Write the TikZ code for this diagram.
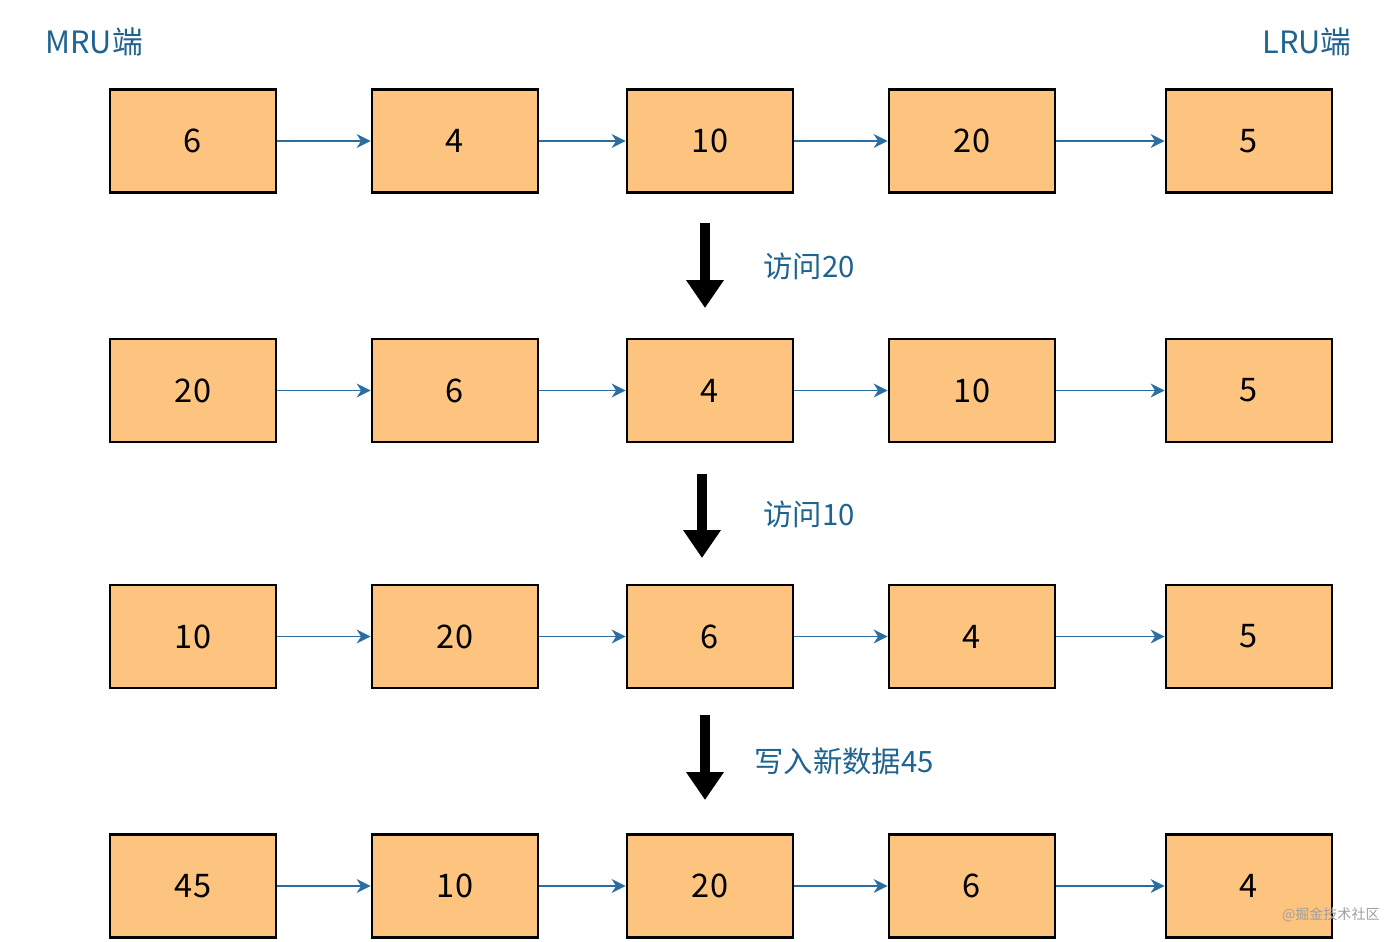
\documentclass[tikz,border=0pt]{standalone}
\usepackage{fontspec}
\usepackage{tikz}
\usetikzlibrary{arrows.meta,positioning,calc}
\newfontfamily\cjk{Noto Sans CJK SC}
\definecolor{cellfill}{HTML}{FDC47F}
\definecolor{linkblue}{HTML}{2A6DA0}
\definecolor{lblblue}{HTML}{1F6391}
\tikzset{
  cell/.style={draw, line width=1.6pt, fill=cellfill, minimum width=3.32cm, minimum height=2.06cm, inner sep=0pt, font=\cjk\fontsize{18.5}{20}\selectfont},
  link/.style={-{Stealth[length=2.8mm, width=2.8mm, inset=0.9mm]}, linkblue, line width=0.8pt},
  stepdown/.style={-{Triangle[length=5.6mm, width=7.2mm]}, line width=2mm},
  opnote/.style={anchor=west, text=lblblue, inner sep=0pt, font=\cjk\fontsize{16.7}{18}\selectfont},
  endlbl/.style={text=lblblue, inner sep=0pt, font=\cjk\fontsize{17.5}{19}\selectfont},
}
% one row of the list: #1 row name, #2 y, #3 values
\newcommand{\listrow}[3]{%
  \foreach \v [count=\i] in {#3} {%
    \pgfmathsetmacro{\cx}{{193,455,710,972,1249}[\i-1]}
    \node[cell] (#1c\i) at (\cx,#2) {\v};
  }
  \foreach \i [evaluate=\i as \j using int(\i+1)] in {1,...,4}
    \draw[link] (#1c\i.east) -- (#1c\j.west);
}
\begin{document}
\begin{tikzpicture}[x=0.02cm,y=-0.02cm]
  \useasboundingbox (0,0) rectangle (1400,941);
  \node[endlbl, anchor=west] (mru) at (45,42) {MRU端};
  \node[endlbl, anchor=east] (lru) at (1352,42) {LRU端};
  \listrow{a}{141}{6,4,10,20,5}
  \listrow{b}{390.5}{20,6,4,10,5}
  \listrow{c}{636.5}{10,20,6,4,5}
  \listrow{d}{886}{45,10,20,6,4}
  % steps between rows
  \coordinate (s1) at (705,223); \coordinate (e1) at (705,308);
  \coordinate (s2) at (702,474); \coordinate (e2) at (702,558);
  \coordinate (s3) at (705,715); \coordinate (e3) at (705,800);
  \draw[stepdown] (s1) -- (e1);
  \draw[stepdown] (s2) -- (e2);
  \draw[stepdown] (s3) -- (e3);
  \node[opnote] (op1) at (763,266) {访问20};
  \node[opnote] (op2) at (763,514) {访问10};
  \node[opnote] (op3) at (754,761) {写入新数据45};
  \node[anchor=east, text=gray!75, inner sep=0pt, font=\cjk\fontsize{8}{9}\selectfont] (wm) at (1380,915) {@掘金技术社区};
\end{tikzpicture}
\end{document}
